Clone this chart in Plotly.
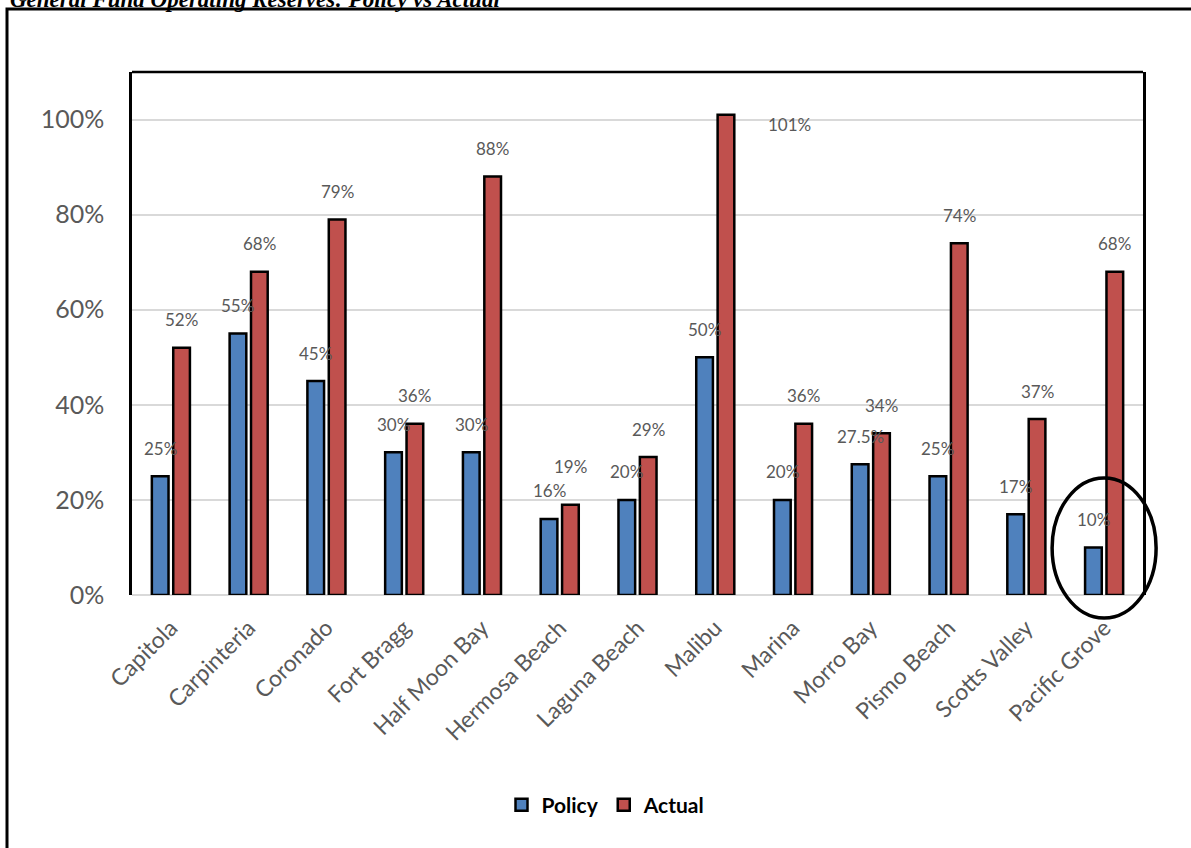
import plotly.graph_objects as go

categories = ["Capitola", "Carpinteria", "Coronado", "Fort Bragg", "Half Moon Bay",
              "Hermosa Beach", "Laguna Beach", "Malibu", "Marina", "Morro Bay",
              "Pismo Beach", "Scotts Valley", "Pacific Grove"]
policy = [25, 55, 45, 30, 30, 16, 20, 50, 20, 27.5, 25, 17, 10]
actual = [52, 68, 79, 36, 88, 19, 29, 101, 36, 34, 74, 37, 68]
policy_labels = ["25%", "55%", "45%", "30%", "30%", "16%", "20%", "50%", "20%", "27.5%", "25%", "17%", "10%"]
actual_labels = ["52%", "68%", "79%", "36%", "88%", "19%", "29%", "101%", "36%", "34%", "74%", "37%", "68%"]
y_ticks = [0, 20, 40, 60, 80, 100]
y_tick_text = ["0%", "20%", "40%", "60%", "80%", "100%"]
highlight = "Pacific Grove"
title_text = "General Fund Operating Reserves: Policy vs Actual"

W, H = 1191, 848
L, R, T, B = 132, 1143, 72, 595
PW, PH = R - L, B - T


def px_x(x):
    return (x - L) / PW


def px_y(y):
    return (B - y) / PH


BLUE = "#4F81BD"
RED = "#C0504D"
GRAY = "#595959"
FONT = "Lato"
BARGAP = 0.45

fig = go.Figure()
fig.add_trace(go.Bar(x=categories, y=policy, name="Policy",
                     marker=dict(color=BLUE, line=dict(color="black", width=2.5))))
fig.add_trace(go.Bar(x=categories, y=actual, name="Actual",
                     marker=dict(color=RED, line=dict(color="black", width=2.5))))

slot = (1 - BARGAP) / 2
lab_font = dict(family=FONT, size=17, color=GRAY)
annotations = []
for i, (p, a, pl, al) in enumerate(zip(policy, actual, policy_labels, actual_labels)):
    annotations.append(dict(x=i - slot / 2, y=p, xref="x", yref="y", text=pl,
                            showarrow=False, yshift=28, yanchor="middle", font=lab_font))
    if a > 100:
        xs, ys = 64, -10
    elif a - p < 4:
        xs, ys = 0, 38
    else:
        xs, ys = 0, 28
    annotations.append(dict(x=i + slot / 2, y=a, xref="x", yref="y", text=al,
                            showarrow=False, xshift=xs, yshift=ys, yanchor="middle",
                            font=lab_font))

annotations.append(dict(x=px_x(8), y=px_y(14), xref="paper", yref="paper",
                        text=title_text, showarrow=False, xanchor="left", yanchor="bottom",
                        font=dict(family="Liberation Serif", size=23, color="black",
                                  weight="bold", style="italic")))

hi = categories.index(highlight)
n = len(categories)
cx = (hi + 0.5) / n
shapes = [
    dict(type="rect", xref="paper", yref="paper", x0=px_x(7), x1=px_x(1220),
         y0=px_y(880), y1=px_y(9), line=dict(color="black", width=3), layer="above"),
    dict(type="line", xref="paper", yref="paper", x0=0, x1=1, y0=1, y1=1,
         line=dict(color="black", width=2.5)),
    dict(type="circle", xref="paper", yref="paper",
         x0=cx - 52 / PW, x1=cx + 52 / PW, y0=px_y(618), y1=px_y(478),
         line=dict(color="black", width=3.5)),
]

fig.update_layout(
    width=W, height=H,
    margin=dict(l=L, r=W - R, t=T, b=H - B, pad=0),
    paper_bgcolor="white", plot_bgcolor="white",
    barmode="group", bargap=BARGAP, bargroupgap=0.22,
    showlegend=True,
    legend=dict(orientation="h", x=px_x(606), y=px_y(805), xanchor="center", yanchor="middle",
                font=dict(family=FONT, size=21, color="black", weight="bold"),
                itemwidth=30, tracegroupgap=0),
    annotations=annotations,
    shapes=shapes,
)
fig.update_xaxes(showgrid=False, showline=False, zeroline=False,
                 tickangle=-45, ticklabelstandoff=14,
                 tickfont=dict(family=FONT, size=23, color=GRAY))
fig.update_yaxes(range=[0, 110], tickvals=y_ticks, ticktext=y_tick_text,
                 showgrid=True, gridcolor="#D9D9D9", gridwidth=2,
                 zeroline=True, zerolinecolor="#D9D9D9", zerolinewidth=2,
                 showline=True, linecolor="black", linewidth=2.5, mirror=True,
                 ticklabelstandoff=20,
                 tickfont=dict(family=FONT, size=25, color=GRAY))

fig.write_html("out.html")
